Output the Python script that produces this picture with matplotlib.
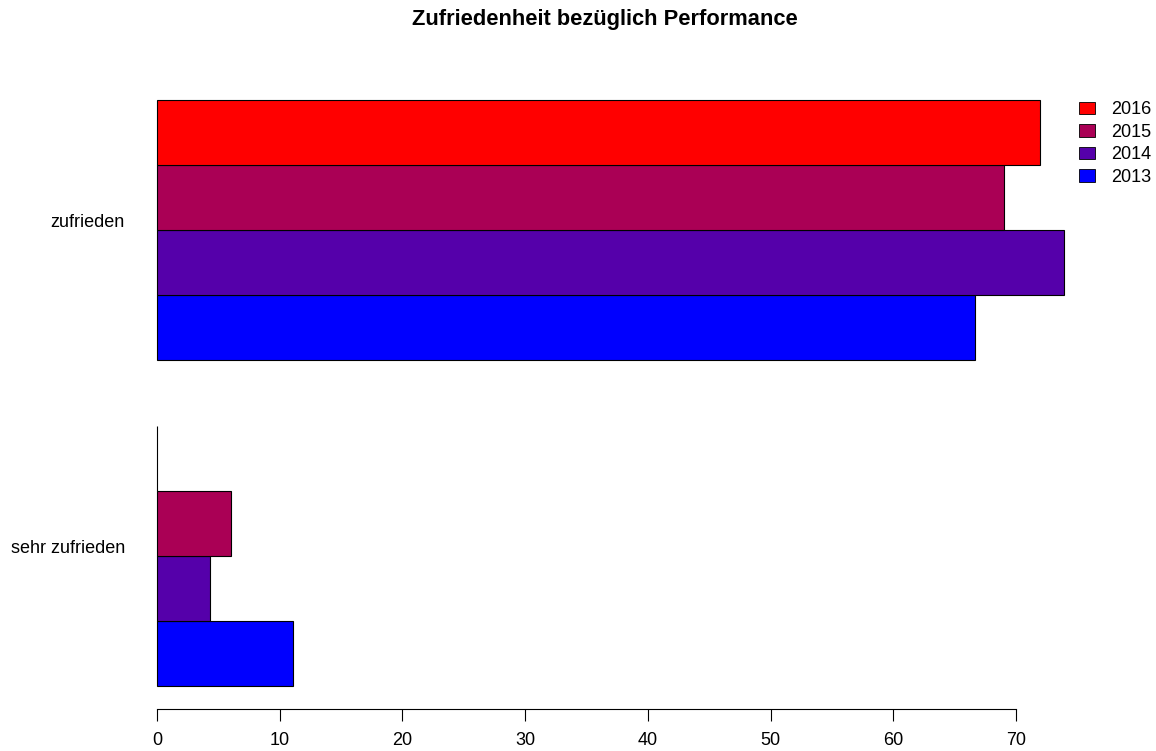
import numpy as np
import matplotlib
matplotlib.use('Agg')
import matplotlib.pyplot as plt
from matplotlib.patches import Patch
import matplotlib.transforms as mtransforms

plt.rcParams['font.family'] = ['Liberation Sans', 'DejaVu Sans']

# data (percent)
kategorien = ['sehr zufrieden', 'zufrieden']
jahre = ['2013', '2014', '2015', '2016']
werte_2013 = [11.1, 66.7]
werte_2014 = [4.3, 73.9]
werte_2015 = [6.0, 69.0]
werte_2016 = [0.0, 72.0]
farben = ['#0000FF', '#5500AA', '#AA0055', '#FF0000']
x_ticks = [0, 10, 20, 30, 40, 50, 60, 70]

serien = [werte_2013, werte_2014, werte_2015, werte_2016]

fig = plt.figure(figsize=(11.56, 7.51), dpi=100)
ax = fig.add_axes([0.1044, 0.0554, 0.8472, 0.8426])

# R style barplot layout: one bar gap before each group
n = len(jahre)
for g in range(len(kategorien)):
    start = 1 + g * (n + 1)
    for k in range(n):
        ax.barh(start + k + 0.5, serien[k][g], height=1.0, left=0,
                color=farben[k], edgecolor='black', linewidth=0.8)

mitten = [1 + g * (n + 1) + n / 2 for g in range(len(kategorien))]
vmax = max(max(s) for s in serien)
ax.set_xlim(-0.04 * vmax, 1.04 * vmax)
ylo, yhi = 1, 1 + len(kategorien) * (n + 1) - 1
ax.set_ylim(ylo - 0.04 * (yhi - ylo), yhi + 0.04 * (yhi - ylo))

for s in ['top', 'right', 'left']:
    ax.spines[s].set_visible(False)
ax.spines['bottom'].set_bounds(x_ticks[0], x_ticks[-1])
ax.spines['bottom'].set_linewidth(0.8)
ax.set_xticks(x_ticks)
ax.tick_params(axis='x', direction='out', length=8.5, width=0.8, pad=8, labelsize=13)

ax.set_yticks(mitten)
ax.set_yticklabels(kategorien, fontsize=13)
ax.tick_params(axis='y', length=0, pad=-3)
off = mtransforms.ScaledTranslation(0, 7 / 72, fig.dpi_scale_trans)
for lab in ax.get_yticklabels():
    lab.set_transform(lab.get_transform() + off)

fig.suptitle('Zufriedenheit bezüglich Performance', fontsize=15.75, fontweight='bold',
             x=0.523, y=0.988)

handles = [Patch(facecolor=farben[k], edgecolor='black', linewidth=0.6, label=jahre[k])
           for k in reversed(range(n))]
fig.legend(handles=handles, loc='upper left', bbox_to_anchor=(0.926, 0.877),
           frameon=False, fontsize=13, handlelength=0.85, handleheight=0.7,
           handletextpad=0.9, labelspacing=0.3, borderpad=0)

fig.savefig('out.png', dpi=100)
